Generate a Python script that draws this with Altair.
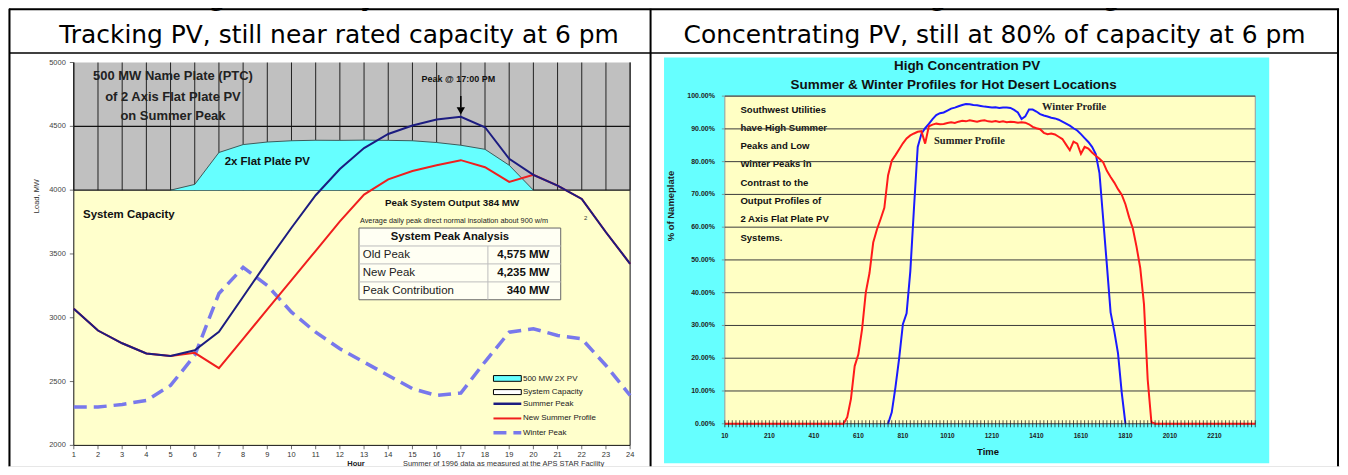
import altair as alt
import pandas as pd

# ---------------- left panel: 500 MW 2-axis flat plate PV on summer peak ----------------
HOURS = list(range(1, 25))
SUMMER_PEAK = [3070, 2900, 2800, 2720, 2700, 2745, 2890, 3165, 3440, 3705, 3960, 4165,
               4330, 4440, 4507, 4554, 4575, 4493, 4245, 4120, 4036, 3931, 3670, 3423]
NEW_SUMMER_PROFILE = [3070, 2900, 2800, 2720, 2700, 2725, 2605, 2835, 3065, 3295, 3525, 3755,
                      3965, 4085, 4150, 4195, 4235, 4180, 4065, 4120, 4036, 3931, 3670, 3423]
WINTER_PEAK = [2300, 2300, 2321, 2352, 2470, 2705, 3190, 3395, 3253, 3044, 2887, 2757,
               2652, 2548, 2444, 2391, 2410, 2655, 2887, 2914, 2861, 2835, 2626, 2391]
PV_HOURS = [5, 6, 7, 8, 9, 10, 11, 12, 13, 14, 15, 16, 17, 18, 19, 20]
PV_TOP = [4000, 4045, 4295, 4357, 4377, 4387, 4391, 4390, 4392, 4390, 4387, 4373,
          4352, 4320, 4195, 4000]
SYSTEM_CAPACITY = 4000
LOAD_MIN = 2000
LOAD_MAX = 5000
LOAD_TICKS = [2000, 2500, 3000, 3500, 4000, 4500, 5000]
GRAY_GRID = [4500]
PEAK_HOUR = 17
NAMEPLATE_NOTE = ["500 MW Name Plate (PTC)", "of 2 Axis Flat Plate PV", "on Summer Peak"]
TABLE_TITLE = "System Peak Analysis"
TABLE_LABELS = ["Old Peak", "New Peak", "Peak Contribution"]
TABLE_VALUES = ["4,575 MW", "4,235 MW", "340 MW"]
LEGEND_LABELS = ["500 MW 2X PV", "System Capacity", "Summer Peak", "New Summer Profile", "Winter Peak"]

# ---------------- right panel: high concentration PV profiles ----------------
TIME_CATEGORIES = [str(h * 100 + m) for h in range(25) for m in range(0, 60, 10)
                   if 10 <= h * 100 + m <= 2400]
TIME_TICK_LABELS = ["10", "210", "410", "610", "810", "1010", "1210", "1410",
                    "1610", "1810", "2010", "2210"]
PCT_TICKS = [0, 10, 20, 30, 40, 50, 60, 70, 80, 90, 100]
SUMMER_NIGHT_TIMES = ["10", "2400"]
SUMMER_NIGHT_VALUES = [0, 0]
SUMMER_PROFILE_START = "530"
SUMMER_PROFILE = [0, 2.0, 7.6, 17.6, 21.2, 28.9, 40.1, 46.0, 55.3, 59.3, 62.5, 65.9,
                  75.8, 80.3, 82.0, 83.8, 85.6, 87.1, 88.0, 88.6, 89.1, 89.3, 85.5, 90.8,
                  91.3, 91.6, 91.4, 91.5, 91.8, 92.0, 91.8, 92.2, 92.5, 92.3, 92.6, 92.4,
                  92.2, 92.5, 92.6, 92.3, 92.2, 92.4, 92.1, 92.3, 92.0, 92.2, 92.1, 91.9,
                  92.0, 91.9, 91.4, 90.6, 90.2, 89.9, 88.8, 88.4, 88.6, 88.3, 87.6, 86.9,
                  85.2, 83.5, 86.1, 85.5, 82.4, 84.5, 84.0, 82.8, 81.8, 80.9, 79.8, 77.2,
                  75.3, 73.6, 71.6, 69.9, 67.0, 63.0, 59.6, 54.0, 47.5, 36.5, 13.5, 0.5, 0]
WINTER_PROFILE_START = "730"
WINTER_PROFILE = [0, 3.5, 11.2, 20.0, 30.4, 33.7, 46.5, 66.0, 84.5, 88.5, 90.2, 91.5,
                  93.0, 94.2, 94.8, 95.0, 95.6, 96.2, 96.5, 96.9, 97.3, 97.6, 97.5, 97.3,
                  97.2, 97.0, 96.8, 96.7, 96.5, 96.6, 96.4, 96.5, 96.5, 96.4, 95.8, 95.0,
                  93.0, 93.8, 95.9, 95.9, 95.3, 94.5, 94.1, 93.8, 93.4, 93.2, 92.8, 92.2,
                  91.6, 91.0, 90.2, 89.5, 88.4, 87.2, 86.0, 84.5, 82.3, 76.5, 62.5, 48.4,
                  34.0, 28.2, 21.5, 9.5, 0]
TEXT_BLOCK = ["Southwest Utilities", "have High Summer", "Peaks and Low", "Winter Peaks in",
              "Contrast to the", "Output Profiles of", "2 Axis Flat Plate PV", "Systems."]

HEADERS = ["Tracking PV, still near rated capacity at 6 pm",
           "Concentrating PV, still at 80% of capacity at 6 pm"]
FIGURE_TITLE = "Figure 3:  Daily Power Generation Profiles of Concentrating and Tracking PV"

# ---------------- styles ----------------
NAVY = "#1C1C80"
RED = "#F01E1E"
WINTER_C = "#7878EC"
CYAN = "#66FFFF"
GRAY = "#C0C0C0"
CREAM = "#FFFFCC"
CREAM_R = "#FFFFC4"
SANS = "Liberation Sans"
W, H = 1336, 459

LX = alt.Scale(domain=[1, 24], range=[66, 624], nice=False, zero=False)
LY = alt.Scale(domain=[LOAD_MIN, LOAD_MAX], range=[438, 54], nice=False, zero=False)
RX = alt.Scale(domain=[0, 143], range=[719, 1251], nice=False, zero=False)
RY = alt.Scale(domain=[0, 100], range=[416.3, 87.7], nice=False, zero=False)

one = pd.DataFrame({"k": [0]})


def lxy(xf, yf):
    return dict(x=alt.X(xf, type="quantitative", scale=LX, axis=None),
                y=alt.Y(yf, type="quantitative", scale=LY, axis=None))


def rxy(xf, yf):
    return dict(x=alt.X(xf, type="quantitative", scale=RX, axis=None),
                y=alt.Y(yf, type="quantitative", scale=RY, axis=None))


def px_text(txt, x, y, **kw):
    return alt.Chart(pd.DataFrame({"t": [txt]})).mark_text(**kw).encode(
        x=alt.value(x), y=alt.value(y), text="t:N")


def px_rule(x, y, x2, y2, **kw):
    return alt.Chart(one).mark_rule(**kw).encode(
        x=alt.value(x), y=alt.value(y), x2=alt.value(x2), y2=alt.value(y2))


def ltext(txt, hour, mw, **kw):
    df = pd.DataFrame({"h": [hour], "v": [mw], "t": [txt]})
    return alt.Chart(df).mark_text(**kw).encode(**lxy("h", "v"), text="t:N")


def rtext(txt, idx, pct, **kw):
    df = pd.DataFrame({"i": [idx], "v": [pct], "t": [txt]})
    return alt.Chart(df).mark_text(**kw).encode(**rxy("i", "v"), text="t:N")


# ---------------- decoration (frame, headers, titles) ----------------
deco = alt.layer(
    alt.Chart(one).mark_rect(color=CYAN).encode(
        x=alt.value(658), x2=alt.value(1265), y=alt.value(49), y2=alt.value(456)),
    px_rule(1, 0.5, 1335, 0.5, color="black", strokeWidth=2),
    px_rule(1.5, 0, 1.5, H, color="black", strokeWidth=2),
    px_rule(1334, 0, 1334, H, color="black", strokeWidth=2),
    px_rule(644.5, 0, 644.5, H, color="black", strokeWidth=2),
    px_rule(1, 44.5, 1335, 44.5, color="black", strokeWidth=1.5),
    px_text(FIGURE_TITLE, 668, -3, font="DejaVu Sans", fontSize=23, fontWeight="bold",
            align="center", baseline="alphabetic", color="black"),
    px_text(HEADERS[0], 332, 34, font="DejaVu Sans", fontSize=25, align="center",
            baseline="alphabetic", color="black"),
    px_text(HEADERS[1], 989.5, 34, font="DejaVu Sans", fontSize=25, align="center",
            baseline="alphabetic", color="black"),
    px_text("Load, MW", 29, 188, font=SANS, fontSize=7.5, angle=270, align="center",
            baseline="middle", color="#333"),
    px_text("Hour", 349, 459, font=SANS, fontSize=7.5, fontWeight="bold", align="center",
            baseline="alphabetic", color="#222"),
    px_text("Summer of 1996 data as measured at the APS STAR Facility", 497, 459, font=SANS,
            fontSize=7.5, align="center", baseline="alphabetic", color="#333"),
    px_text("High Concentration PV", 962, 57, font=SANS, fontSize=13.5, fontWeight="bold",
            align="center", baseline="middle", color="#111"),
    px_text("Summer & Winter Profiles for Hot Desert Locations", 948.5, 77, font=SANS,
            fontSize=13.5, fontWeight="bold", align="center", baseline="middle", color="#111"),
    px_text("% of Nameplate", 665, 198, font=SANS, fontSize=9.5, fontWeight="bold", angle=270,
            align="center", baseline="middle", color="#222"),
    px_text("Time", 983, 445, font=SANS, fontSize=9.5, fontWeight="bold", align="center",
            baseline="middle", color="#111"),
)

# ---------------- left chart ----------------
bg_df = pd.DataFrame({"x": [1, 1], "x2": [24, 24],
                      "y": [SYSTEM_CAPACITY, LOAD_MIN], "y2": [LOAD_MAX, SYSTEM_CAPACITY],
                      "c": [GRAY, CREAM]})
left_bg = alt.Chart(bg_df).mark_rect().encode(
    **lxy("x", "y"), x2="x2:Q", y2="y2:Q", color=alt.Color("c:N", scale=None))

vgrid_df = pd.DataFrame({"h": HOURS, "y": SYSTEM_CAPACITY, "y2": LOAD_MAX})
left_vgrid = alt.Chart(vgrid_df).mark_rule(color="#222", strokeWidth=1).encode(
    **lxy("h", "y"), y2="y2:Q")

hgrid_df = pd.DataFrame({"x": 1, "x2": 24, "y": GRAY_GRID + [SYSTEM_CAPACITY]})
left_hgrid = alt.Chart(hgrid_df).mark_rule(color="#111", strokeWidth=1.2).encode(
    **lxy("x", "y"), x2="x2:Q")

edge_df = pd.DataFrame({"x": [24], "y": [LOAD_MIN], "y2": [LOAD_MAX]})
right_edge = alt.Chart(edge_df).mark_rule(color="#333", strokeWidth=1.2).encode(
    **lxy("x", "y"), y2="y2:Q")

# left axes drawn through the scales
yaxis_line = alt.Chart(pd.DataFrame({"x": [1], "y": [LOAD_MIN], "y2": [LOAD_MAX]})).mark_rule(
    color="#111", strokeWidth=1).encode(**lxy("x", "y"), y2="y2:Q")
xaxis_line = alt.Chart(pd.DataFrame({"x": [1], "x2": [24], "y": [LOAD_MIN]})).mark_rule(
    color="#111", strokeWidth=1).encode(**lxy("x", "y"), x2="x2:Q")
ytick_df = pd.DataFrame({"x": 1, "y": LOAD_TICKS, "t": [str(v) for v in LOAD_TICKS]})
yticks = alt.Chart(ytick_df).mark_tick(orient="horizontal", size=4, thickness=1,
                                       color="#333", xOffset=-2).encode(**lxy("x", "y"))
ylabels = alt.Chart(ytick_df).mark_text(font=SANS, fontSize=7.5, color="#444", align="right",
                                        baseline="middle", dx=-8).encode(**lxy("x", "y"),
                                                                         text="t:N")
xtick_df = pd.DataFrame({"x": HOURS, "y": LOAD_MIN, "t": [str(h) for h in HOURS]})
xticks = alt.Chart(xtick_df).mark_tick(orient="vertical", size=4, thickness=1,
                                       color="#333", yOffset=2).encode(**lxy("x", "y"))
xlabels = alt.Chart(xtick_df).mark_text(font=SANS, fontSize=7.5, color="#333", align="center",
                                        baseline="middle", dy=9.5).encode(**lxy("x", "y"),
                                                                          text="t:N")

pv_df = pd.DataFrame({"h": PV_HOURS, "top": PV_TOP, "base": SYSTEM_CAPACITY})
pv_area = alt.Chart(pv_df).mark_area(color=CYAN, opacity=1).encode(
    **lxy("h", "top"), y2="base:Q")
pv_edge = alt.Chart(pv_df).mark_line(color="#3C5A5A", strokeWidth=1).encode(**lxy("h", "top"))

lines_df = pd.DataFrame({"h": HOURS, "summer": SUMMER_PEAK, "new": NEW_SUMMER_PROFILE,
                         "winter": WINTER_PEAK})
winter_line = alt.Chart(lines_df).mark_line(color=WINTER_C, strokeWidth=3.5,
                                            strokeDash=[13, 7]).encode(**lxy("h", "winter"))
new_line = alt.Chart(lines_df).mark_line(color=RED, strokeWidth=2).encode(**lxy("h", "new"))
summer_line = alt.Chart(lines_df).mark_line(color=NAVY, strokeWidth=2).encode(
    **lxy("h", "summer"))

# annotations
notes = [ltext(t, 5.1, y, font=SANS, fontSize=13, fontWeight="bold", align="center",
               baseline="middle", color="#222")
         for t, y in zip(NAMEPLATE_NOTE, [4893, 4729, 4578])]
ann = [
    ltext("2x Flat Plate PV", 9.0, 4221, font=SANS, fontSize=11.5, fontWeight="bold",
          align="center", baseline="middle", color="#111"),
    ltext("System Capacity", 1.38, 3805, font=SANS, fontSize=11.5, fontWeight="bold",
          align="left", baseline="middle", color="#111"),
    ltext("Peak @ 17:00 PM", 16.9, 4867, font=SANS, fontSize=9, fontWeight="bold",
          align="center", baseline="middle", color="#111"),
    ltext("Peak System Output 384 MW", 16.64, 3896, font=SANS, fontSize=9.8, fontWeight="bold",
          align="center", baseline="middle", color="#111"),
    ltext("Average daily peak direct normal insolation about 900 w/m", 16.72, 3760, font=SANS,
          fontSize=7.3, align="center", baseline="middle", color="#222"),
    ltext("2", 22.16, 3779, font=SANS, fontSize=6, align="center", baseline="middle",
          color="#333"),
]
arrow_rule = alt.Chart(pd.DataFrame({"h": [PEAK_HOUR], "y": [4737], "y2": [4650]})).mark_rule(
    color="black", strokeWidth=1.5).encode(**lxy("h", "y"), y2="y2:Q")
arrow_head = alt.Chart(pd.DataFrame({"h": [PEAK_HOUR], "y": [4622]})).mark_point(
    shape="triangle-down", filled=True, color="black", size=70, opacity=1).encode(
    **lxy("h", "y"))

# peak analysis table
T_X0, T_X1, T_XMID = 12.79, 21.13, 18.12
T_ROWS = [3703, 3562.5, 3422, 3281, 3141]
table_box = alt.Chart(pd.DataFrame({"x": [T_X0], "x2": [T_X1], "y": [T_ROWS[-1]],
                                    "y2": [T_ROWS[0]]})).mark_rect(
    fill="#FFFFF3", stroke="#666", strokeWidth=1).encode(**lxy("x", "y"), x2="x2:Q", y2="y2:Q")
table_h = alt.Chart(pd.DataFrame({"x": T_X0, "x2": T_X1, "y": T_ROWS[1:4]})).mark_rule(
    color="#BDBDBD", strokeWidth=1).encode(**lxy("x", "y"), x2="x2:Q")
table_v = alt.Chart(pd.DataFrame({"x": [T_XMID], "y": [T_ROWS[1]], "y2": [T_ROWS[-1]]})).mark_rule(
    color="#BDBDBD", strokeWidth=1).encode(**lxy("x", "y"), y2="y2:Q")
row_centers = [(T_ROWS[k] + T_ROWS[k + 1]) / 2 for k in range(4)]
table_txt = [ltext(TABLE_TITLE, 16.55, row_centers[0], font=SANS, fontSize=11.3,
                   fontWeight="bold", align="center", baseline="middle", color="#111")]
for k in range(3):
    table_txt.append(ltext(TABLE_LABELS[k], 12.95, row_centers[k + 1], font=SANS,
                           fontSize=11.5, align="left", baseline="middle", color="#222"))
    table_txt.append(ltext(TABLE_VALUES[k], 20.66, row_centers[k + 1], font=SANS,
                           fontSize=11.5, fontWeight="bold", align="right",
                           baseline="middle", color="#111"))

# legend
LG_X0, LG_X1, LG_TX = 18.35, 19.5, 19.57
LG_Y = [2523, 2418, 2326, 2211, 2099]
lg_rects = alt.Chart(pd.DataFrame({"x": [LG_X0, LG_X0], "x2": [LG_X1, LG_X1],
                                   "y": [2502, 2398], "y2": [2547, 2437],
                                   "c": [CYAN, "#FFFFFF"]})).mark_rect(
    stroke="black", strokeWidth=1).encode(**lxy("x", "y"), x2="x2:Q", y2="y2:Q",
                                          color=alt.Color("c:N", scale=None))


def lg_line(y, color, width, dash=None):
    kw = dict(color=color, strokeWidth=width)
    if dash:
        kw["strokeDash"] = dash
    return alt.Chart(pd.DataFrame({"x": [LG_X0], "x2": [LG_X1], "y": [y]})).mark_rule(**kw).encode(
        **lxy("x", "y"), x2="x2:Q")


lg_lines = [lg_line(LG_Y[2], NAVY, 2.5), lg_line(LG_Y[3], RED, 2),
            lg_line(LG_Y[4], WINTER_C, 3.5, [13, 7])]
lg_text = alt.Chart(pd.DataFrame({"x": LG_TX, "y": LG_Y, "t": LEGEND_LABELS})).mark_text(
    font=SANS, fontSize=8, align="left", baseline="middle", color="#222").encode(
    **lxy("x", "y"), text="t:N")

left = alt.layer(left_bg, left_vgrid, left_hgrid, right_edge, yaxis_line, xaxis_line,
                 yticks, ylabels, xticks, xlabels, pv_area, pv_edge,
                 *notes, *ann, table_box, table_h, table_v, *table_txt,
                 lg_rects, *lg_lines, lg_text,
                 winter_line, new_line, summer_line, arrow_rule, arrow_head)

# ---------------- right chart ----------------
r_bg = alt.Chart(pd.DataFrame({"x": [0], "x2": [143], "y": [0], "y2": [100]})).mark_rect(
    fill=CREAM_R, stroke="#999", strokeWidth=1).encode(**rxy("x", "y"), x2="x2:Q", y2="y2:Q")

block = alt.Chart(pd.DataFrame({"t": TEXT_BLOCK, "k": list(range(len(TEXT_BLOCK)))})).transform_calculate(
    i="4.2", v="95.9 - datum.k * 5.59").mark_text(
    font=SANS, fontSize=9.6, fontWeight="bold", align="left", baseline="middle",
    color="#111").encode(**rxy("i", "v"), text="t:N")

r_grid = alt.Chart(pd.DataFrame({"x": 0, "x2": 143, "y": PCT_TICKS[1:]})).mark_rule(
    color="#3A3A3A", strokeWidth=1).encode(**rxy("x", "y"), x2="x2:Q")
r_xaxis = alt.Chart(pd.DataFrame({"x": [0], "x2": [143], "y": [0]})).mark_rule(
    color="#555", strokeWidth=1).encode(**rxy("x", "y"), x2="x2:Q")

s0 = TIME_CATEGORIES.index(SUMMER_PROFILE_START)
summer_df = pd.DataFrame({
    "i": [TIME_CATEGORIES.index(SUMMER_NIGHT_TIMES[0])] + [s0 + k for k in range(len(SUMMER_PROFILE))]
         + [TIME_CATEGORIES.index(SUMMER_NIGHT_TIMES[1])],
    "v": [SUMMER_NIGHT_VALUES[0]] + SUMMER_PROFILE + [SUMMER_NIGHT_VALUES[1]]})
w0 = TIME_CATEGORIES.index(WINTER_PROFILE_START)
winter_df = pd.DataFrame({"i": [w0 + k for k in range(len(WINTER_PROFILE))], "v": WINTER_PROFILE})

r_winter = alt.Chart(winter_df).mark_line(color="#1A1AFF", strokeWidth=2).encode(**rxy("i", "v"))
r_summer = alt.Chart(summer_df).mark_line(color="#FF1A1A", strokeWidth=2).encode(**rxy("i", "v"))

r_ticks = alt.Chart(pd.DataFrame({"i": list(range(len(TIME_CATEGORIES))), "v": 0})).mark_tick(
    orient="vertical", size=7, thickness=1, color="#111").encode(**rxy("i", "v"))

rx_df = pd.DataFrame({"i": [TIME_CATEGORIES.index(t) for t in TIME_TICK_LABELS], "v": 0,
                      "t": TIME_TICK_LABELS})
r_xlabels = alt.Chart(rx_df).mark_text(font=SANS, fontSize=6.5, fontWeight="bold",
                                       color="#222", align="center", baseline="middle",
                                       dy=12.4).encode(**rxy("i", "v"), text="t:N")
ry_df = pd.DataFrame({"i": 0, "v": PCT_TICKS, "t": ["%.2f%%" % v for v in PCT_TICKS]})
r_ylabels = alt.Chart(ry_df).mark_text(font=SANS, fontSize=7, fontWeight="bold",
                                       color="#222", align="right", baseline="middle",
                                       dx=-10).encode(**rxy("i", "v"), text="t:N")
r_yticks = alt.Chart(ry_df).mark_tick(orient="horizontal", size=3, thickness=1,
                                      color="#777", xOffset=-1.5).encode(**rxy("i", "v"))

r_labels = [
    rtext("Summer Profile", 56.4, 86.2, font="Liberation Serif", fontSize=10.5,
          fontWeight="bold", align="left", baseline="middle", color="#222"),
    rtext("Winter Profile", 85.5, 96.8, font="Liberation Serif", fontSize=10.5,
          fontWeight="bold", align="left", baseline="middle", color="#222"),
]

right = alt.layer(r_bg, block, r_grid, r_xaxis, r_winter, r_summer, r_ticks,
                  r_xlabels, r_ylabels, r_yticks, *r_labels)

chart = alt.layer(deco, left, right).resolve_scale(
    x="independent", y="independent").properties(
    width=W, height=H, padding=0, autosize=alt.AutoSizeParams(type="none")
).configure_view(stroke=None).configure(font=SANS)

chart.save("out.html", embed_options={"renderer": "svg", "actions": False})
